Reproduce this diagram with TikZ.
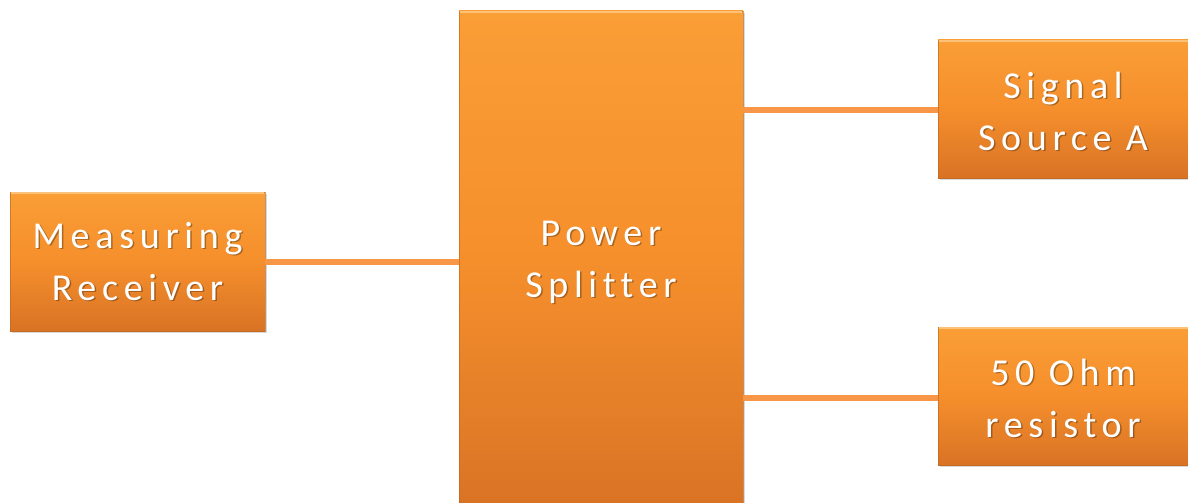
\documentclass[tikz,border=0pt]{standalone}
\usepackage{fontspec}
\setmainfont{Carlito}[LetterSpace=15, Ligatures={NoCommon}]
\usetikzlibrary{shadows,calc}
\definecolor{boxtop}{HTML}{FA9E36}
\definecolor{boxmid}{HTML}{F58F2C}
\definecolor{boxbot}{HTML}{D97325}
\definecolor{boxedge}{HTML}{B8651F}
\definecolor{boxhigh}{HTML}{FCC27A}
\definecolor{wire}{HTML}{F79646}
\tikzset{
  blockbox/.style={rectangle, minimum width=#1, inner sep=0pt,
    top color=boxtop, bottom color=boxbot, middle color=boxmid,
    draw=boxedge, draw opacity=0.6, line width=0.8pt,
    drop shadow={shadow xshift=1.5pt, shadow yshift=-2pt, opacity=0.3}},
  blocktext/.style={text=white, font=\fontsize{38}{52}\selectfont, align=center},
  shadowtext/.style={text=black, opacity=0.3, font=\fontsize{38}{52}\selectfont, align=center},
  highlight/.style={draw=boxhigh, line width=1.5pt, line cap=butt},
  wireline/.style={draw=wire, line width=6pt}
}
\begin{document}
\begin{tikzpicture}[x=1pt,y=-1pt]
\useasboundingbox (0,0) rectangle (1188,503);
% boxes
\node[blockbox=255pt, minimum height=139pt] (rx) at (137.5,261.5) {};
\node[blockbox=284pt, minimum height=500pt] (ps) at (601,261) {};
\node[blockbox=256pt, minimum height=138pt] (sa) at (1066,109) {};
\node[blockbox=256pt, minimum height=138pt] (rs) at (1066,396) {};
% top highlights (bevel)
\foreach \b in {rx,ps,sa,rs}{
  \draw[highlight] ($(\b.north west)+(1,1.5)$) -- ($(\b.north east)+(-1,1.5)$);
}
% connectors
\draw[wireline] (rx.east |- 0,261.5) -- (ps.west |- 0,261.5);
\draw[wireline] (ps.east |- 0,110) -- (sa.west |- 0,110);
\draw[wireline] (ps.east |- 0,398) -- (rs.west |- 0,398);
% texts
\node[shadowtext] (rxs) at ($(rx.center)+(1.5,1.5)$) {Measuring\\Receiver};
\node[blocktext] (rxt) at (rx.center) {Measuring\\Receiver};
\node[shadowtext] (pss) at (602.5,263.5) {Power\\Splitter};
\node[blocktext] (pst) at (601,262) {Power\\Splitter};
\node[shadowtext] (sas) at (1064.5,112.5) {Signal\\Source A};
\node[blocktext] (sat) at (1063,111) {Signal\\Source A};
\node[shadowtext] (rss) at (1064.5,399.5) {50 Ohm\\resistor};
\node[blocktext] (rst) at (1063,398) {50 Ohm\\resistor};
\end{tikzpicture}
\end{document}
